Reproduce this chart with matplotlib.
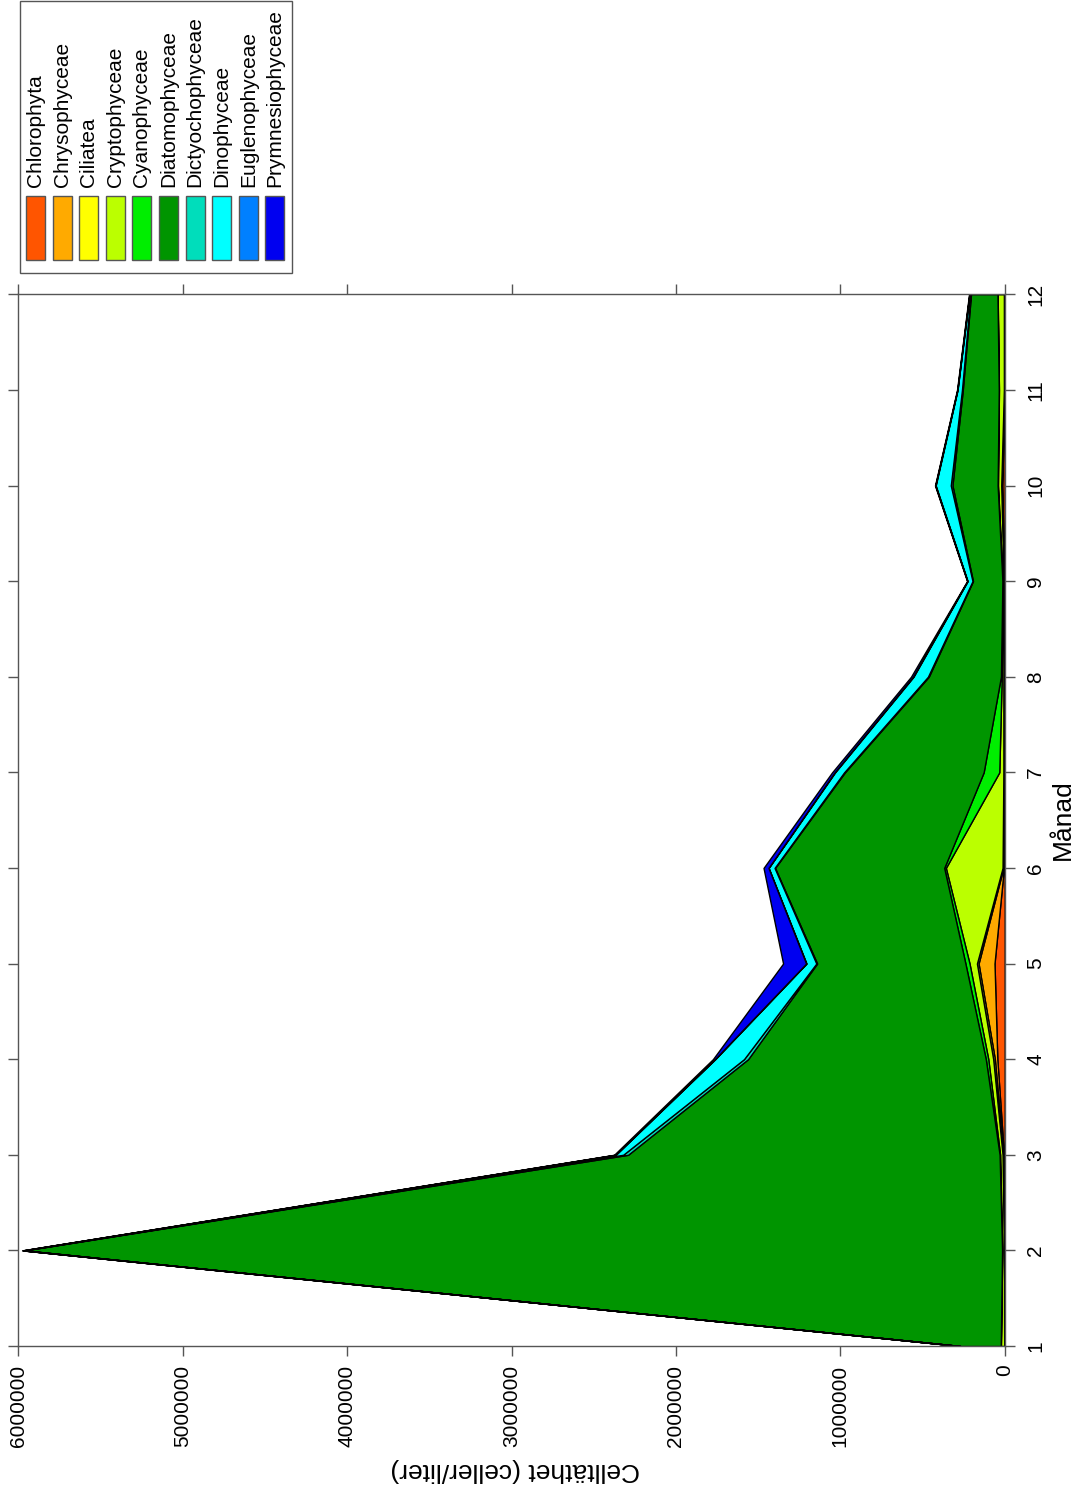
import numpy as np
import matplotlib
matplotlib.use("Agg")
import matplotlib.pyplot as plt
from matplotlib.patches import Rectangle

plt.rcParams['font.family'] = ['Liberation Sans', 'DejaVu Sans']

# monthly cell density per class (celler/liter), stacked bottom -> top
months = [1, 2, 3, 4, 5, 6, 7, 8, 9, 10, 11, 12]
classes = ['Chlorophyta', 'Chrysophyceae', 'Ciliatea', 'Cryptophyceae', 'Cyanophyceae',
           'Diatomophyceae', 'Dictyochophyceae', 'Dinophyceae', 'Euglenophyceae',
           'Prymnesiophyceae']
colors = ['#FF5500', '#FFAA00', '#FFFF00', '#BBFF00', '#00EE00',
          '#009500', '#00DDBB', '#00FFFF', '#0080FF', '#0000F0']

chlorophyta      = [0, 2000, 5000, 45000, 62000, 5000, 3000, 3000, 3000, 15000, 0, 2000]
chrysophyceae    = [0, 0, 3000, 15000, 97000, 3000, 2000, 2000, 2000, 3000, 2000, 0]
ciliatea         = [3000, 3000, 5000, 10000, 10000, 5000, 3000, 3000, 2000, 3000, 3000, 3000]
cryptophyceae    = [20000, 10000, 15000, 30000, 45000, 345000, 25000, 10000, 5000, 20000, 30000, 38000]
cyanophyceae     = [1000, 1000, 3000, 15000, 25000, 10000, 95000, 5000, 2000, 2000, 1000, 1000]
diatomophyceae   = [245000, 5945000, 2260000, 1446000, 902000, 1029000, 844000, 439000, 179000, 275000, 219000, 161000]
dictyochophyceae = [1000, 5000, 30000, 25000, 5000, 3000, 5000, 5000, 3000, 10000, 5000, 3000]
dinophyceae      = [2000, 5000, 45000, 175000, 60000, 36000, 55000, 88000, 30000, 92000, 27000, 6000]
euglenophyceae   = [0, 1000, 2000, 2000, 2000, 1000, 3000, 3000, 1000, 2000, 1000, 1000]
prymnesiophyceae = [1000, 5000, 8000, 12000, 140000, 30000, 15000, 12000, 2000, 2000, 2000, 2000]

series = [chlorophyta, chrysophyceae, ciliatea, cryptophyceae, cyanophyceae,
          diatomophyceae, dictyochophyceae, dinophyceae, euglenophyceae, prymnesiophyceae]

value_ticks = [0, 1000000, 2000000, 3000000, 4000000, 5000000, 6000000]

W, H = 1081, 1495
fig = plt.figure(figsize=(W / 100, H / 100), dpi=100)

# chart is drawn turned a quarter turn: values run right->left, months bottom->top
ax = fig.add_axes([18.3 / W, 1 - 1346 / H, (1004.7 - 18.3) / W, (1346 - 294.3) / H])

y = np.array(months, dtype=float)
base = np.zeros(len(months))
for vals, col in zip(series, colors):
    top = base + np.array(vals, dtype=float)
    ax.fill_betweenx(y, base, top, facecolor=col, edgecolor='black', linewidth=1.0)
    base = top

ax.set_xlim(6000000, 0)
ax.set_ylim(1, 12)

ax.set_xticks(value_ticks)
ax.set_xticklabels([str(v) for v in value_ticks], rotation=90, fontsize=15)
ax.set_yticks(months)
ax.set_yticklabels([str(m) for m in months], rotation=90, fontsize=15, va='center')

ax.tick_params(axis='both', direction='out', length=7.5, width=1.0, color='#555555',
               top=True, bottom=True, left=True, right=True,
               labelleft=False, labelright=True, labeltop=False, labelbottom=True)
ax.tick_params(axis='x', pad=6)
ax.tick_params(axis='y', pad=8)
for sp in ax.spines.values():
    sp.set_color('#555555')
    sp.set_linewidth(1.0)

fig.text(1063 / W, 1 - 820 / H, 'Månad', rotation=90, fontsize=19,
         ha='center', va='center')
fig.text(515 / W, 1 - 1470 / H, 'Celltäthet (celler/liter)', rotation=180, fontsize=19,
         ha='center', va='center')

# legend, drawn by hand so it can be turned like the chart
fig.patches.append(Rectangle((19.5 / W, 1 - 273 / H), (292 - 19.5) / W, 272 / H,
                             transform=fig.transFigure, facecolor='white',
                             edgecolor='#555555', linewidth=1.0))
for i, (name, col) in enumerate(zip(classes, colors)):
    cx = 35.5 + i * 26.6
    fig.patches.append(Rectangle(((cx - 9.5) / W, 1 - 260 / H), 19 / W, 64 / H,
                                 transform=fig.transFigure, facecolor=col,
                                 edgecolor='#555555', linewidth=1.0))
    fig.text(cx / W, 1 - 187 / H, name, rotation=90, fontsize=15,
             ha='center', va='bottom')

fig.savefig('out.png', dpi=100)
